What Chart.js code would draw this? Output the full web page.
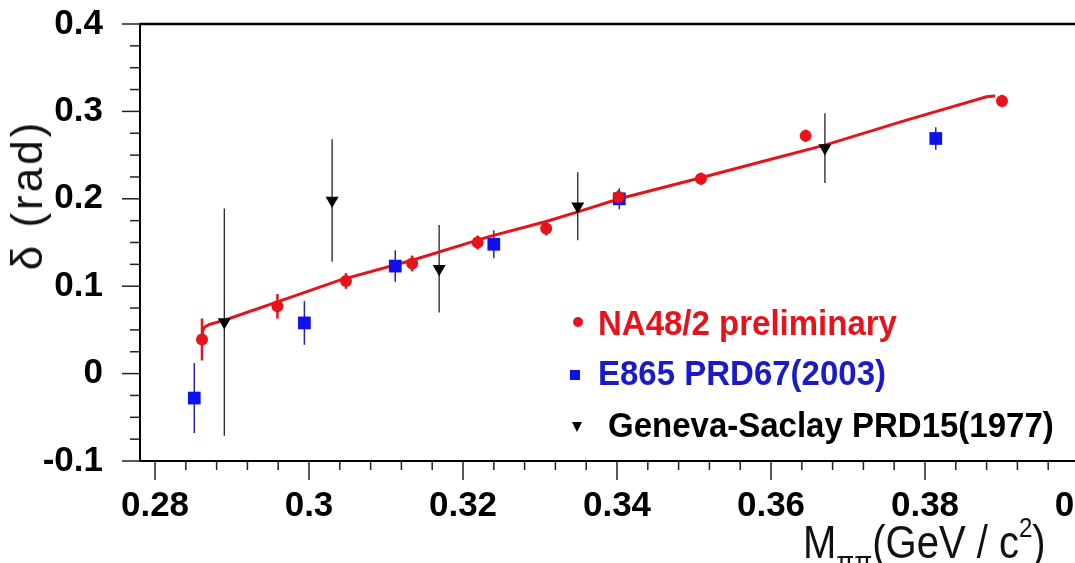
<!DOCTYPE html>
<html>
<head>
<meta charset="utf-8">
<script src="https://cdn.jsdelivr.net/npm/chart.js@4/dist/chart.umd.min.js"></script>
<style>
  html, body { margin: 0; padding: 0; background: #fff; overflow: hidden; }
  #wrap { position: relative; width: 1075px; height: 563px; overflow: hidden; }
  #c { position: absolute; left: 0; top: 0; }
  .lg { position: absolute; font: bold 33px 'Liberation Sans', Arial, sans-serif; line-height: 33px; white-space: nowrap;
    transform: scaleY(1.06); transform-origin: 0 28px; }
  .mk { position: absolute; }
  #ytitle { position: absolute; left: 27px; top: 195px; transform: translate(-50%, -50%) rotate(-90deg);
    font: 44px 'Liberation Sans', Arial, sans-serif; letter-spacing: 3px; white-space: nowrap; color: #111; }
  #xtitle { position: absolute; left: 803px; top: 524px; height: 40px; font: 40px 'Liberation Sans', Arial, sans-serif;
    line-height: 40px; white-space: nowrap; color: #111; transform: scaleY(1.15); transform-origin: 0 34px; }
  #xtitle sub { font-size: 26px; position: relative; top: 12px; vertical-align: baseline; line-height: 0; }
  #xtitle sup { font-size: 24px; position: relative; top: -18px; vertical-align: baseline; line-height: 0; }
</style>
</head>
<body>
<div id="wrap">
  <canvas id="c" width="1120" height="563"></canvas>
  <div id="ytitle">δ (rad)</div>
  <div id="xtitle">M<sub>ππ</sub>(GeV / c<sup>2</sup>)</div>
  <div class="mk" style="left:573px;top:317px;width:10px;height:10px;border-radius:50%;background:#e8121a"></div>
  <div class="lg" style="left:598px;top:307px;color:#e8121a">NA48/2 preliminary</div>
  <div class="mk" style="left:570px;top:370px;width:10px;height:10px;background:#1010ee"></div>
  <div class="lg" style="left:598px;top:357px;color:#1a1ac8">E865 PRD67(2003)</div>
  <div class="mk" style="left:572px;top:422px;width:0;height:0;border-left:5px solid transparent;border-right:5px solid transparent;border-top:10px solid #000"></div>
  <div class="lg" style="left:608px;top:409px;color:#000">Geneva-Saclay PRD15(1977)</div>
</div>
<script>
// tick labels
const xTickLabels = ['0.28', '0.3', '0.32', '0.34', '0.36', '0.38', '0.4'];
const yTickLabels = ['-0.1', '0', '0.1', '0.2', '0.3', '0.4'];
const xMinorStep = 0.004;
const yMinorStep = 0.025;

// NA48/2 preliminary
const naX = [0.2861, 0.2959, 0.3048, 0.3134, 0.3219, 0.3308, 0.3402, 0.3509, 0.3645, 0.3900];
const naY = [0.039, 0.077, 0.106, 0.126, 0.150, 0.166, 0.202, 0.223, 0.272, 0.312];
const naErr = [0.024, 0.014, 0.009, 0.009, 0.008, 0.008, 0.008, 0.007, 0.007, 0.007];

// E865 PRD67(2003)
const e865X = [0.2851, 0.2994, 0.3112, 0.3240, 0.3403, 0.3814];
const e865Y = [-0.028, 0.058, 0.123, 0.148, 0.200, 0.269];
const e865Err = [0.040, 0.025, 0.018, 0.016, 0.012, 0.013];

// Geneva-Saclay PRD15(1977)
const gsX = [0.2890, 0.3030, 0.3169, 0.3349, 0.3670];
const gsY = [0.059, 0.198, 0.120, 0.1915, 0.258];
const gsErr = [0.130, 0.070, 0.050, 0.039, 0.040];

// fit curve
const fitX = [0.2861, 0.2862, 0.2864, 0.2870, 0.2890, 0.2959, 0.3040, 0.3135, 0.3235, 0.3308, 0.3349, 0.3403, 0.3509, 0.3590, 0.3670, 0.3776, 0.3880, 0.3891];
const fitY = [0.041, 0.049, 0.053, 0.056, 0.061, 0.082, 0.107, 0.130, 0.157, 0.174, 0.185, 0.200, 0.224, 0.243, 0.2614, 0.290, 0.3167, 0.3175];

const toPts = (xs, ys) => xs.map((x, i) => ({ x: x, y: ys[i] }));

const majorX = xTickLabels.map(Number);
const majorY = yTickLabels.map(Number);
const steps = (from, to, step) => {
  const out = [];
  for (let v = from; v <= to + 1e-9; v += step) out.push(+v.toFixed(4));
  return out;
};
const xTickValues = steps(majorX[0], majorX[majorX.length - 1], xMinorStep);
const yTickValues = steps(majorY[0], majorY[majorY.length - 1], yMinorStep);
const majorIndex = (list, v) => list.findIndex((m) => Math.abs(m - v) < 1e-6);

const errorBars = {
  id: 'errorBars',
  beforeDatasetsDraw(chart) {
    const { ctx, scales: { x, y } } = chart;
    ctx.save();
    chart.data.datasets.forEach((ds) => {
      if (!ds.errors) return;
      ctx.strokeStyle = ds.errorColor;
      ctx.lineWidth = ds.errorWidth;
      ds.data.forEach((p, i) => {
        const px = x.getPixelForValue(p.x);
        ctx.beginPath();
        ctx.moveTo(px, y.getPixelForValue(p.y + ds.errors[i]));
        ctx.lineTo(px, y.getPixelForValue(p.y - ds.errors[i]));
        ctx.stroke();
      });
    });
    ctx.restore();
  },
};

const axisTicks = {
  id: 'axisTicks',
  afterDraw(chart) {
    const { ctx, chartArea, scales: { x, y } } = chart;
    ctx.save();
    ctx.strokeStyle = '#222';
    ctx.lineWidth = 1.5;
    x.ticks.forEach((t) => {
      const px = x.getPixelForValue(t.value);
      const len = majorIndex(majorX, t.value) >= 0 ? 19 : 9;
      ctx.beginPath();
      ctx.moveTo(px, chartArea.bottom);
      ctx.lineTo(px, chartArea.bottom + len);
      ctx.stroke();
    });
    y.ticks.forEach((t) => {
      const py = y.getPixelForValue(t.value);
      const len = majorIndex(majorY, t.value) >= 0 ? 18 : 10;
      ctx.beginPath();
      ctx.moveTo(chartArea.left - len, py);
      ctx.lineTo(chartArea.left, py);
      ctx.stroke();
    });
    ctx.strokeStyle = '#000';
    ctx.lineWidth = 2.5;
    ctx.beginPath();
    ctx.moveTo(chartArea.left, chartArea.top);
    ctx.lineTo(chartArea.right, chartArea.top);
    ctx.lineTo(chartArea.right, chartArea.bottom);
    ctx.stroke();
    ctx.restore();
  },
};

const tickFont = { family: "'Liberation Sans', Arial", size: 35, weight: 'bold' };

const noPad = (s) => { s.paddingTop = 0; s.paddingBottom = 0; s.paddingLeft = 0; s.paddingRight = 0; };

const chart = new Chart(document.getElementById('c'), {
  type: 'scatter',
  data: {
    datasets: [
      {
        label: 'NA48/2 preliminary',
        data: toPts(naX, naY),
        errors: naErr,
        errorColor: '#e8121a',
        errorWidth: 2.5,
        pointStyle: 'circle',
        pointRadius: 6,
        backgroundColor: '#e8121a',
        borderWidth: 0,
      },
      {
        label: 'E865 PRD67(2003)',
        data: toPts(e865X, e865Y),
        errors: e865Err,
        errorColor: '#2424a8',
        errorWidth: 1.5,
        pointStyle: 'rect',
        pointRadius: 9,
        backgroundColor: '#1010ee',
        borderWidth: 0,
      },
      {
        label: 'Geneva-Saclay PRD15(1977)',
        data: toPts(gsX, gsY),
        errors: gsErr,
        errorColor: '#222',
        errorWidth: 1.3,
        pointStyle: 'triangle',
        rotation: 180,
        pointRadius: 7.5,
        backgroundColor: '#000',
        borderWidth: 0,
      },
      {
        label: 'fit',
        type: 'line',
        data: toPts(fitX, fitY),
        showLine: true,
        borderColor: '#e8121a',
        borderWidth: 3,
        pointRadius: 0,
        tension: 0,
        fill: false,
      },
    ],
  },
  options: {
    responsive: false,
    animation: false,
    events: [],
    layout: { padding: { top: 24, right: 41, left: 0, bottom: 0 } },
    plugins: { legend: { display: false }, tooltip: { enabled: false } },
    scales: {
      x: {
        type: 'linear',
        min: 0.27805,
        max: 0.4,
        afterBuildTicks: (s) => { s.ticks = xTickValues.map((v) => ({ value: v })); },
        afterFit: (s) => { s.height = 102; noPad(s); },
        grid: { drawOnChartArea: false, drawTicks: false },
        border: { display: true, color: '#000', width: 2 },
        ticks: {
          autoSkip: false,
          maxRotation: 0,
          padding: 24,
          color: '#000',
          font: tickFont,
          callback: (v) => { const i = majorIndex(majorX, v); return i >= 0 ? xTickLabels[i] : ''; },
        },
      },
      y: {
        type: 'linear',
        min: -0.1,
        max: 0.4,
        afterBuildTicks: (s) => { s.ticks = yTickValues.map((v) => ({ value: v })); },
        afterFit: (s) => { s.width = 140; noPad(s); },
        grid: { drawOnChartArea: false, drawTicks: false },
        border: { display: true, color: '#000', width: 2 },
        ticks: {
          autoSkip: false,
          padding: 37,
          color: '#000',
          font: tickFont,
          callback: (v) => { const i = majorIndex(majorY, v); return i >= 0 ? yTickLabels[i] : ''; },
        },
      },
    },
  },
  plugins: [errorBars, axisTicks],
});
</script>
</body>
</html>
